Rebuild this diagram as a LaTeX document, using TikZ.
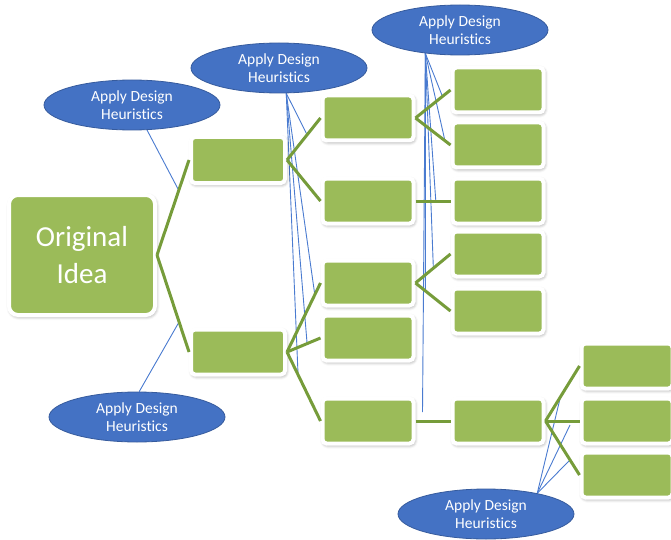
\documentclass[tikz,border=0pt]{standalone}
\usepackage{fontspec}
\setmainfont{Carlito}[Ligatures=NoCommon]
\usetikzlibrary{shapes.geometric,shadows.blur,backgrounds}
\definecolor{leaf}{HTML}{9BBB59}
\definecolor{twig}{RGB}{118,156,58}
\definecolor{heur}{HTML}{4472C4}
\definecolor{heurline}{HTML}{4A7BD0}

\begin{document}
\begin{tikzpicture}[x=1pt,y=-1pt,
  idea/.style={rectangle, rounded corners=4pt, fill=leaf, draw=white,
    line width=4pt, minimum width=91pt, minimum height=45pt, inner sep=0pt,
    blur shadow={shadow xshift=1pt, shadow yshift=-1.5pt,
      shadow blur radius=3.5pt, shadow opacity=45}},
  seed/.style={idea, rounded corners=9pt, minimum width=146pt,
    minimum height=120pt, align=center, text=white,
    font=\fontsize{29}{37}\selectfont},
  heuristic/.style={ellipse, fill=heur, draw=heur!80!black, line width=0.8pt,
    minimum width=176pt, minimum height=50pt, inner sep=0pt, align=center,
    text=white, font=\fontsize{15.5}{18}\selectfont},
  branch/.style={draw=twig, line width=3pt},
  probe/.style={draw=heurline, line width=0.9pt}]

\useasboundingbox (0,0) rectangle (671,540);

% idea boxes, column by column
\node[seed] (orig) at (82,255) {Original\\Idea};
\node[idea, minimum width=94pt, minimum height=46pt] (a1) at (238,160) {};
\node[idea, minimum width=94pt] (a2) at (238,352) {};

\node[idea] (b1) at (368,118) {};
\node[idea] (b2) at (368,201) {};
\node[idea] (b3) at (368,283) {};
\node[idea] (b4) at (368,338) {};
\node[idea] (b5) at (368,421) {};

\node[idea] (c1) at (498,90) {};
\node[idea] (c2) at (498,145) {};
\node[idea] (c3) at (498,201) {};
\node[idea] (c4) at (498,254) {};
\node[idea] (c5) at (498,311) {};
\node[idea] (c6) at (498,421) {};

\node[idea] (d1) at (627,366) {};
\node[idea] (d2) at (627,421) {};
\node[idea] (d3) at (627,475) {};

% heuristic bubbles
\node[heuristic] (h1) at (132,105) {Apply Design\\Heuristics};
\node[heuristic] (h2) at (279,68)  {Apply Design\\Heuristics};
\node[heuristic] (h3) at (460,30)  {Apply Design\\Heuristics};
\node[heuristic] (h4) at (137,417) {Apply Design\\Heuristics};
\node[heuristic] (h5) at (486,514) {Apply Design\\Heuristics};

% branches between ideas, with the points the heuristics act on
\draw[branch] (orig.east) -- coordinate[pos=0.68] (t1) (a1.west);
\draw[branch] (orig.east) -- coordinate[pos=0.69] (t2) (a2.west);

\draw[branch] (a1.east) -- coordinate[pos=0.6] (u1) (b1.west);
\draw[branch] (a1.east) -- (b2.west);
\draw[branch] (a2.east) -- coordinate[pos=0.83] (u3) (b3.west);
\draw[branch] (a2.east) -- coordinate[pos=0.6] (u4) (b4.west);
\draw[branch] (a2.east) -- coordinate[pos=0.33] (u5) (b5.west);

\draw[branch] (b1.east) -- coordinate[pos=0.77] (v1) (c1.west);
\draw[branch] (b1.east) -- coordinate[pos=0.84] (v2) (c2.west);
\draw[branch] (b2.east) -- coordinate[pos=0.58] (v3) (c3.west);
\draw[branch] (b3.east) -- coordinate[pos=0.51] (v4) (c4.west);
\draw[branch] (b3.east) -- coordinate[pos=0.28] (v5) (c5.west);
\draw[branch] (b5.east) -- coordinate[pos=0.2, yshift=9pt] (v6) (c6.west);

\draw[branch] (c6.east) -- coordinate[pos=0.44] (w1) (d1.west);
\draw[branch] (c6.east) -- coordinate[pos=0.72, yshift=-4pt] (w2) (d2.west);
\draw[branch] (c6.east) -- coordinate[pos=0.72] (w3) (d3.west);

% heuristic probes
\begin{scope}[on background layer]
  \draw[probe] (h1.-59) -- (t1);
  \draw[probe] (h4.85) -- (t2);
  \foreach \p in {u1,u3,u4,u5} \draw[probe] (h2.-74) -- (\p);
  \foreach \p in {v1,v2,v3,v4,v5,v6} \draw[probe] (h3.-146) -- (\p);
  \foreach \p in {w1,w2,w3} \draw[probe] (h5.22) -- (\p);
\end{scope}
\end{tikzpicture}
\end{document}
